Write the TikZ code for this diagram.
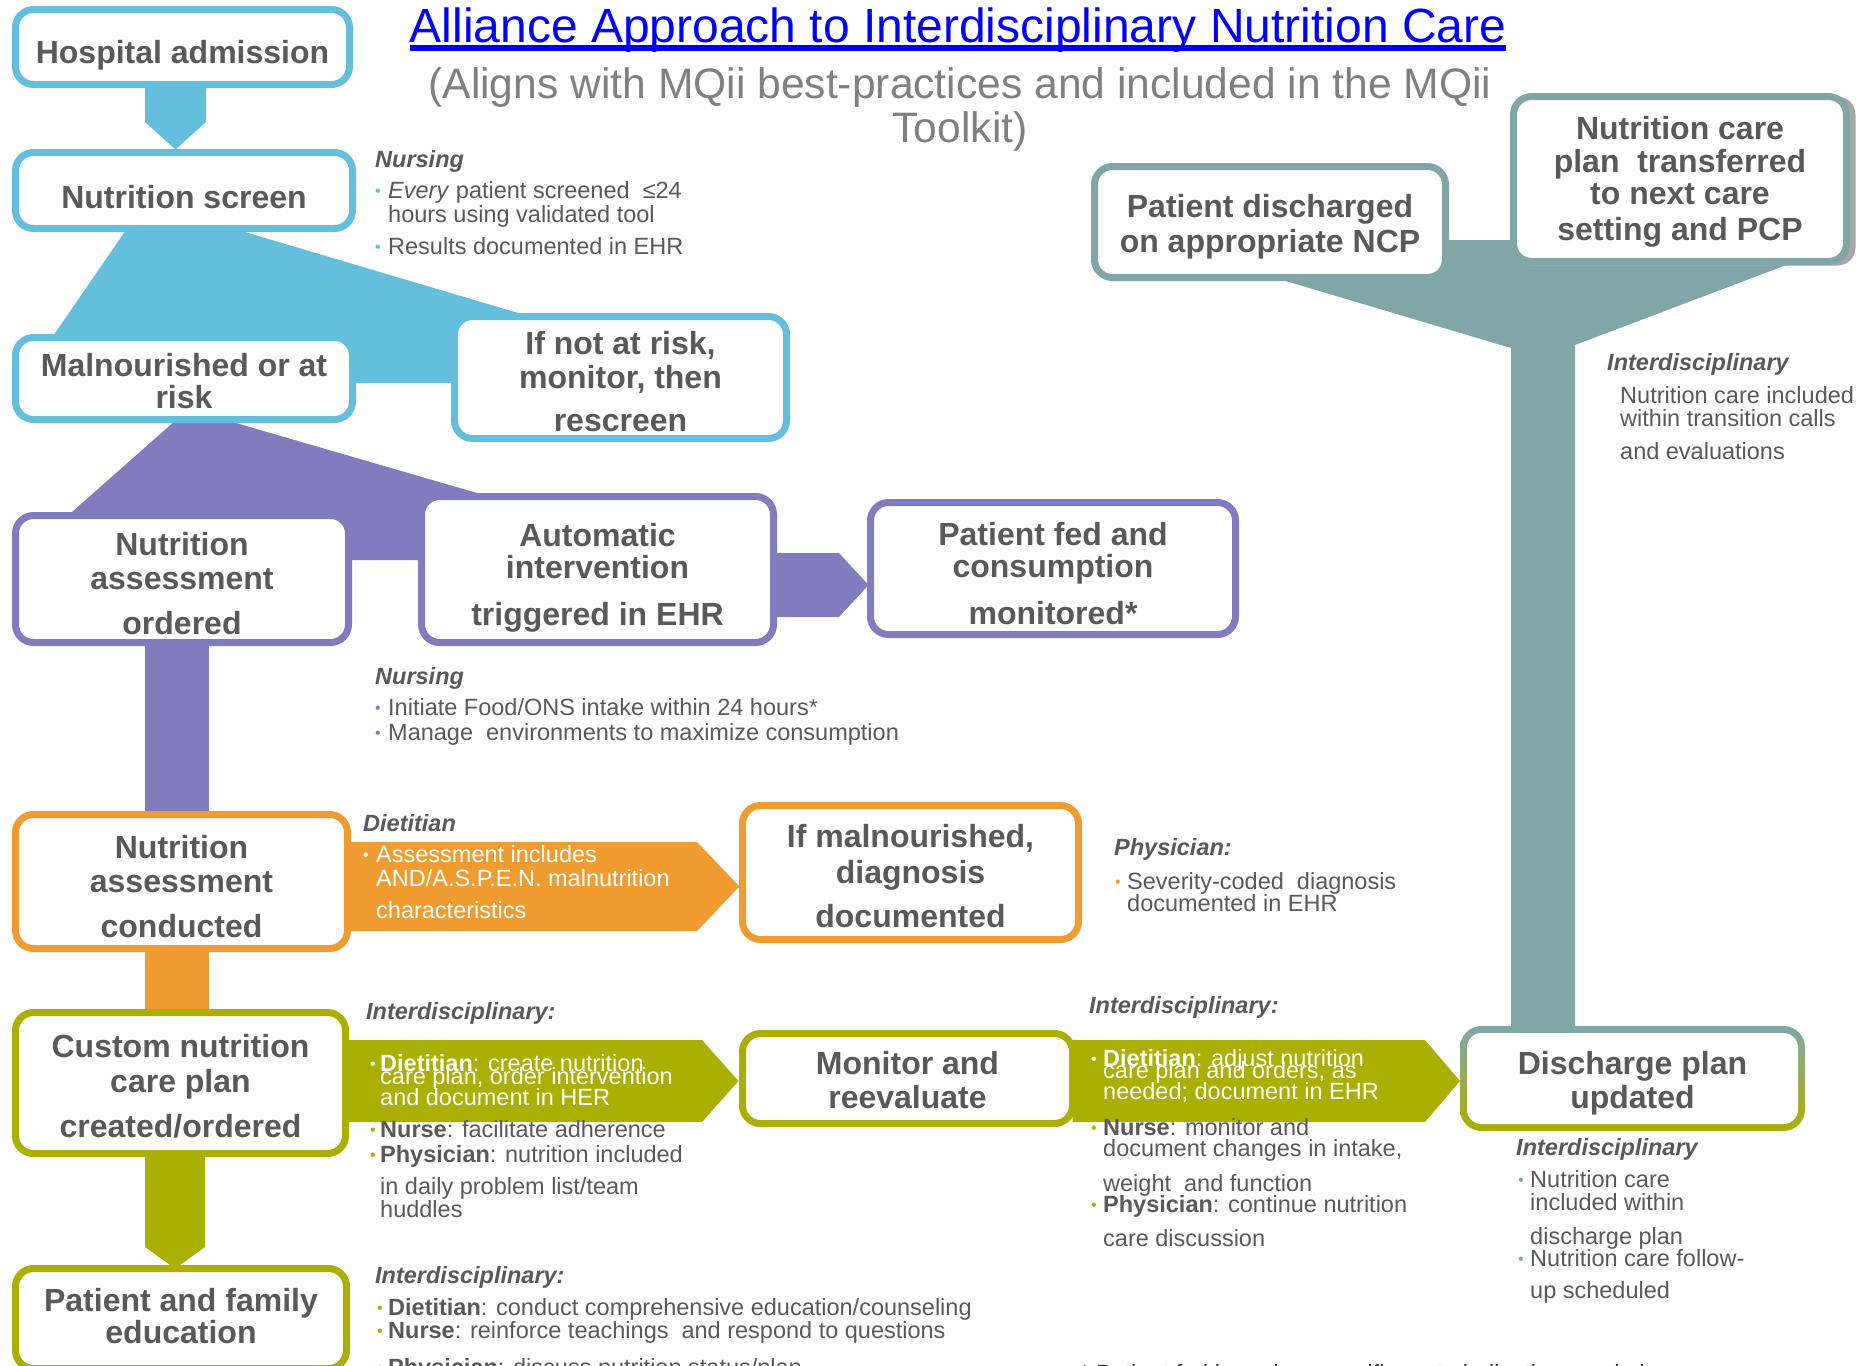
\documentclass[tikz,border=0pt]{standalone}
\usepackage{fontspec}
\setmainfont{Liberation Sans}
\usetikzlibrary{calc}
\pgfdeclarelayer{bg}
\pgfsetlayers{bg,main}
\definecolor{cyanc}{HTML}{64BFDC}
\definecolor{purplec}{HTML}{807CBD}
\definecolor{orangec}{HTML}{F09C30}
\definecolor{olivec}{HTML}{ABAF00}
\definecolor{tealc}{HTML}{80A6A8}
\definecolor{boxtext}{HTML}{595959}
\definecolor{subgray}{HTML}{808080}
\definecolor{titleblue}{HTML}{0000FF}
\newcommand\boxfont{\fontsize{32}{34}\selectfont\bfseries}
\newcommand\notefont{\fontsize{23.5}{26}\selectfont}
\newcommand\bul[2]{\makebox[#2][l]{\textcolor{#1}{\fontsize{16}{16}\selectfont\raisebox{1.5pt}{•}}}}
\newcommand\up[1]{\rule{0pt}{#1}}
\tikzset{
  box/.style={draw=#1, line width=7pt, rounded corners=18pt, fill=white, text=boxtext,
    align=center, font=\boxfont, inner sep=0pt, outer sep=0pt},
  note/.style={anchor=base west, inner sep=0pt, text=boxtext, font=\notefont},
  notehead/.style={note, font=\notefont\bfseries\itshape},
  wnote/.style={note, text=white},
}
\begin{document}
\begin{tikzpicture}[x=1pt,y=-1pt]
\useasboundingbox (0,0) rectangle (1860,1365);
\clip (0,0) rectangle (1860,1365);

% ---------- title ----------
\node[anchor=base, inner sep=0pt, text=titleblue, font=\fontsize{48}{50}\selectfont] (title) at (958,42)
  {Alliance Approach to Interdisciplinary Nutrition Care};
\draw[titleblue, line width=6pt] ($(title.base west)+(0,6)$) -- ($(title.base east)+(0,6)$);
\node[inner sep=0pt, align=center, text=subgray, font=\fontsize{42.6}{44}\selectfont] (subtitle) at (960,109)
  {(Aligns with MQii best-practices and included in the MQii\\Toolkit)};

% ---------- boxes ----------
\node[box=cyanc, minimum width=334pt, minimum height=75pt] (hosp) at (182.5,47) {\up{39pt}Hospital admission};
\node[box=cyanc, minimum width=337pt, minimum height=76pt] (screen) at (184,190.5) {\up{36pt}Nutrition screen};
\node[box=cyanc, minimum width=337pt, minimum height=82pt] (mal) at (184,378.5) {\up{28pt}Malnourished or at\\[-2pt]risk};
\node[box=cyanc, minimum width=332pt, minimum height=122pt] (notrisk) at (620.5,377.5) {\up{30.5pt}If not at risk,\\monitor, then\\[9pt]rescreen};

\node[box=purplec, minimum width=333pt, minimum height=127pt] (assessord) at (182,579) {\up{33pt}Nutrition\\assessment\\[11pt]ordered};
\node[box=purplec, minimum width=352pt, minimum height=146pt] (auto) at (597.5,569.5) {\up{39pt}Automatic\\[-2pt]intervention\\[13pt]triggered in EHR};
\node[box=purplec, minimum width=365pt, minimum height=132pt] (fed) at (1053,568.5) {\up{33pt}Patient fed and\\[-2pt]consumption\\[13pt]monitored*};

\node[box=orangec, minimum width=332pt, minimum height=134pt] (assesscond) at (181.5,881.5) {\up{33pt}Nutrition\\assessment\\[11pt]conducted};
\node[box=orangec, minimum width=336pt, minimum height=134pt] (diag) at (910.5,872.5) {\up{30.5pt}If malnourished,\\[2pt]diagnosis\\[10pt]documented};

\node[box=olivec, minimum width=330pt, minimum height=141pt] (custom) at (180.5,1083) {\up{30.5pt}Custom nutrition\\[1pt]care plan\\[11pt]created/ordered};
\node[box=olivec, minimum width=330pt, minimum height=90pt] (monitor) at (907.5,1078.5) {\up{26pt}Monitor and\\reevaluate};
\node[box=olivec, draw=none, rounded corners=14.5pt, minimum width=331pt, minimum height=91pt] (discharge) at (1632.5,1078.5) {\up{33pt}Discharge plan\\updated};
\node[box=olivec, minimum width=331pt, minimum height=100pt] (educ) at (181,1318.5) {Patient and family\\[-2pt]education\rule[-5pt]{0pt}{5pt}};

\node[box=tealc, minimum width=351pt, minimum height=111pt] (discharged) at (1270,222) {\up{33pt}Patient discharged\\[1pt]on appropriate NCP};
\node[box=tealc, minimum width=333pt, minimum height=165pt] (transferred) at (1680,179) {\up{28pt}Nutrition care\\[-1pt]plan~ transferred\\[-2pt]to next care\\[2pt]setting and PCP};

% ---------- connectors (background) ----------
\begin{pgfonlayer}{bg}
\fill[white] (0,0) rectangle (1860,1365);
% cyan
\fill[cyanc] ($(hosp.south)+(-37.5,0)$) -- ($(hosp.south)+(23.5,0)$) -- ($(hosp.south)+(23.5,37.5)$)
  -- ($(screen.north)+(-8.5,-3)$) -- ($(hosp.south)+(-37.5,37.5)$) -- cycle;
\fill[cyanc] ($(screen.south)+(-57,0)$) -- ($(screen.south)+(49,0)$) -- ($(notrisk.north)+(-90.5,0)$)
  -- ($(notrisk.north)+(-90.5,66.5)$) -- ($(mal.east)+(0,4.5)$) -- ($(mal.north)+(-132,0)$) -- cycle;
% purple
\fill[purplec] ($(mal.south)+(-7.4,0)$) -- ($(mal.south)+(40,0)$) -- ($(auto.north)+(-108.5,0)$)
  -- ($(auto.north)+(-108.5,63.5)$) -- ($(assessord.east)+(0,-19)$) -- ($(assessord.north)+(-114,0)$) -- cycle;
\draw[purplec, line width=64pt] ($(assessord.south)+(-5,0)$) -- ($(assesscond.north)+(-4.5,0)$);
\fill[purplec] ($(auto.east)+(0,-16.5)$) -- ($(auto.east)+(65.5,-16.5)$) -- ($(fed.west)+(-2,16.5)$)
  -- ($(auto.east)+(65.5,47.5)$) -- ($(auto.east)+(0,47.5)$) -- cycle;
% orange
\draw[orangec, line width=64pt] ($(assesscond.south)+(-4.5,0)$) -- ($(custom.north)+(-3.5,0)$);
\fill[orangec] ($(assesscond.east)+(0,-39.5)$) -- ($(assesscond.east)+(349.5,-39.5)$) -- ($(diag.west)+(-3,14)$)
  -- ($(assesscond.east)+(349.5,49.5)$) -- ($(assesscond.east)+(0,49.5)$) -- cycle;
% olive
\fill[olivec] ($(custom.south)+(-35.5,0)$) -- ($(custom.south)+(24.5,0)$) -- ($(custom.south)+(24.5,93.5)$)
  -- ($(educ.north)+(-6,0)$) -- ($(custom.south)+(-35.5,93.5)$) -- cycle;
\fill[olivec] ($(custom.east)+(0,-43)$) -- ($(custom.east)+(356.5,-43)$) -- ($(monitor.west)+(-4,2.5)$)
  -- ($(custom.east)+(356.5,39)$) -- ($(custom.east)+(0,39)$) -- cycle;
\fill[olivec] ($(monitor.east)+(0,-38.5)$) -- ($(monitor.east)+(352.5,-38.5)$) -- ($(discharge.west)+(-7,2.5)$)
  -- ($(monitor.east)+(352.5,43.5)$) -- ($(monitor.east)+(0,43.5)$) -- cycle;
% teal
\fill[tealc] ($(discharged.east)+(-230.5,18)$) -- ($(transferred.east)+(-20.5,61)$) -- ($(transferred.east)+(-20.5,71)$)
  -- (1575,345) -- ($(discharge.north)+(-57.5,0)$) -- ($(discharge.north)+(-121.5,0)$)
  -- (1511,348) -- ($(discharged.east)+(-230.5,38)$) -- cycle;
% shadow of transferred box
\fill[black!35, rounded corners=18pt] ($(transferred.north west)+(0,0)$) rectangle ($(transferred.south east)+(9,4)$);
% gradient border of discharge box
\shade[rounded corners=21.5pt, shading angle=-35, top color=tealc, bottom color=olivec]
  ($(discharge.north west)+(-7,-7)$) rectangle ($(discharge.south east)+(7,7)$);
\end{pgfonlayer}

% ---------- notes ----------
% screen notes
\node[notehead] (n1h) at (375,167) {Nursing};
\node[note] (n1a) at (375,198) {\bul{cyanc}{13pt}\textit{Every} patient screened~ ≤24};
\node[note] (n1b) at (388,222) {hours using validated tool};
\node[note] (n1c) at (375,254) {\bul{cyanc}{13pt}Results documented in EHR};
% transition notes
\node[notehead] (n2h) at (1607,370) {Interdisciplinary};
\node[note] (n2a) at (1620,403) {Nutrition care included};
\node[note] (n2b) at (1620,426) {within transition calls};
\node[note] (n2c) at (1620,459) {and evaluations};
% nursing notes
\node[notehead] (n3h) at (375,684) {Nursing};
\node[note] (n3a) at (375,715) {\bul{purplec}{13pt}Initiate Food/ONS intake within 24 hours*};
\node[note] (n3b) at (375,740) {\bul{purplec}{13pt}Manage~ environments to maximize consumption};
% dietitian notes
\node[notehead] (n4h) at (363,831) {Dietitian};
\node[wnote] (n4a) at (363,862) {\bul{white}{13pt}Assessment includes};
\node[wnote] (n4b) at (376,886) {AND/A.S.P.E.N. malnutrition};
\node[wnote] (n4c) at (376,918) {characteristics};
% physician notes
\node[notehead] (n5h) at (1114,855) {Physician:};
\node[note] (n5a) at (1115,889) {\bul{orangec}{12pt}Severity-coded~ diagnosis};
\node[note] (n5b) at (1127,911) {documented in EHR};
% care plan notes
\node[notehead] (n6h) at (366,1019) {Interdisciplinary:};
\node[wnote] (n6a) at (370,1071) {\bul{white}{10pt}\textbf{Dietitian}: create nutrition};
\node[wnote] (n6b) at (380,1084) {care plan, order intervention};
\node[wnote] (n6c) at (380,1105) {and document in HER};
\node[note] (n6d) at (370,1137) {\bul{olivec}{10pt}\textbf{Nurse}: facilitate adherence};
\node[note] (n6e) at (370,1162) {\bul{olivec}{10pt}\textbf{Physician}: nutrition included};
\node[note] (n6f) at (380,1194) {in daily problem list/team};
\node[note] (n6g) at (380,1217) {huddles};
% monitor notes
\node[notehead] (n7h) at (1089,1013) {Interdisciplinary:};
\node[wnote] (n7a) at (1091,1066) {\bul{white}{12pt}\textbf{Dietitian}: adjust nutrition};
\node[wnote] (n7b) at (1103,1078) {care plan and orders, as};
\node[wnote] (n7c) at (1103,1099) {needed; document in EHR};
\node[note] (n7d) at (1091,1135) {\bul{olivec}{12pt}\textbf{Nurse}: monitor and};
\node[note] (n7e) at (1103,1156) {document changes in intake,};
\node[note] (n7f) at (1103,1191) {weight~ and function};
\node[note] (n7g) at (1091,1212) {\bul{olivec}{12pt}\textbf{Physician}: continue nutrition};
\node[note] (n7h) at (1103,1246) {care discussion};
% discharge notes
\node[notehead] (n8h) at (1516,1155) {Interdisciplinary};
\node[note] (n8a) at (1518,1187) {\bul{tealc}{12pt}Nutrition care};
\node[note] (n8b) at (1530,1210) {included within};
\node[note] (n8c) at (1530,1244) {discharge plan};
\node[note] (n8d) at (1518,1266) {\bul{tealc}{12pt}Nutrition care follow-};
\node[note] (n8e) at (1530,1298) {up scheduled};
% education notes
\node[notehead] (n9h) at (375,1283) {Interdisciplinary:};
\node[note] (n9a) at (377,1315) {\bul{olivec}{11pt}\textbf{Dietitian}: conduct comprehensive education/counseling};
\node[note] (n9b) at (377,1338) {\bul{olivec}{11pt}\textbf{Nurse}: reinforce teachings~ and respond to questions};
\node[note] (n9c) at (377,1375) {\bul{olivec}{11pt}\textbf{Physician}: discuss nutrition status/plan};
% footnote (cut off at the bottom edge)
\node[note, text=black!80] (foot) at (1080,1381) {* Patient fed based on specific route indications and plan};
\end{tikzpicture}
\end{document}
